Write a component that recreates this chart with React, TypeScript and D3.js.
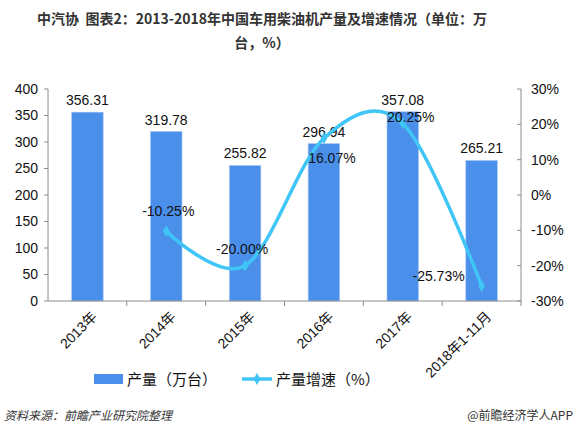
import { useMemo } from "react";
import * as d3 from "d3";

const years = ["2013年", "2014年", "2015年", "2016年", "2017年", "2018年1-11月"];
const output = [356.31, 319.78, 255.82, 296.94, 357.08, 265.21];
const growth = [null, -10.25, -20.0, 16.07, 20.25, -25.73];
const leftTicks = [0, 50, 100, 150, 200, 250, 300, 350, 400];
const rightTicks = [-30, -20, -10, 0, 10, 20, 30];

const W = 577;
const H = 434;
const M = { top: 89, right: 56, bottom: 133, left: 48 };
const BAR = "#4a8fea";
const LINE = "#3fc6f6";
const FONT = "'Liberation Sans', 'Noto Sans CJK SC', sans-serif";
const CJK = "'Noto Sans CJK SC', sans-serif";

// offsets for the growth labels, relative to each point
const growthLabelOffset: [number, number][] = [
  [0, 0],
  [2, -15],
  [-3, -12],
  [8, 25],
  [8, -1],
  [-43, -5],
];

export default function App() {
  const boundsWidth = W - M.left - M.right;
  const boundsHeight = H - M.top - M.bottom;

  const xScale = useMemo(
    () => d3.scaleBand().domain(years).range([0, boundsWidth]).paddingInner(0.6).paddingOuter(0.3),
    [boundsWidth]
  );
  const xBand = useMemo(
    () => d3.scaleBand().domain(years).range([0, boundsWidth]),
    [boundsWidth]
  );
  const yLeft = useMemo(
    () => d3.scaleLinear().domain([0, 400]).range([boundsHeight, 0]),
    [boundsHeight]
  );
  const yRight = useMemo(
    () => d3.scaleLinear().domain([-30, 30]).range([boundsHeight, 0]),
    [boundsHeight]
  );

  const cx = (c: string) => (xBand(c) ?? 0) + xBand.bandwidth() / 2;

  const linePts = years
    .map((c, i) => ({ c, v: growth[i] }))
    .filter((d) => d.v !== null) as { c: string; v: number }[];

  const linePath = d3
    .line<{ c: string; v: number }>()
    .x((d) => cx(d.c))
    .y((d) => yRight(d.v))
    .curve(d3.curveCardinal.tension(0))(linePts);

  const diamond = d3.symbol().type(d3.symbolDiamond).size(40)() ?? "";

  return (
    <svg width={W} height={H} style={{ position: "absolute", left: 0, top: 0, background: "#fff" }}>
      <text x={262} y={24} textAnchor="middle" fontFamily={CJK} fontWeight="bold" fontSize={14} fill="#333">
        {"中汽协\u00a0\u00a0图表2：2013-2018年中国车用柴油机产量及增速情况（单位：万"}
      </text>
      <text x={262} y={48} textAnchor="middle" fontFamily={CJK} fontWeight="bold" fontSize={14} fill="#333">
        台，%）
      </text>

      <g transform={`translate(${M.left},${M.top})`} fontFamily={FONT}>
        {/* bars */}
        {years.map((c, i) => (
          <g key={c}>
            <rect
              x={xScale(c)}
              y={yLeft(output[i])}
              width={xScale.bandwidth()}
              height={boundsHeight - yLeft(output[i])}
              fill={BAR}
              stroke="#a9c8f3"
              strokeWidth={0.6}
            />
            <text
              x={cx(c)}
              y={yLeft(output[i]) - 7}
              textAnchor="middle"
              fontSize={14}
              fill="#111"
            >
              {output[i].toFixed(2)}
            </text>
          </g>
        ))}

        {/* growth line */}
        <path d={linePath ?? ""} fill="none" stroke={LINE} strokeWidth={3.5} />
        {linePts.map((d) => (
          <path key={d.c} d={diamond} transform={`translate(${cx(d.c)},${yRight(d.v)})`} fill={LINE} />
        ))}
        {linePts.map((d) => {
          const i = years.indexOf(d.c);
          const [dx, dy] = growthLabelOffset[i];
          return (
            <text
              key={d.c}
              x={cx(d.c) + dx}
              y={yRight(d.v) + dy}
              textAnchor="middle"
              fontSize={14}
              fill="#111"
            >
              {d.v.toFixed(2)}%
            </text>
          );
        })}

        {/* left axis */}
        <line x1={0} x2={0} y1={0} y2={boundsHeight} stroke="#8c8c8c" />
        {leftTicks.map((t) => (
          <g key={t} transform={`translate(0,${yLeft(t)})`}>
            <line x1={-4} x2={0} stroke="#8c8c8c" />
            <text x={-10} dy="0.35em" textAnchor="end" fontSize={14} fill="#111">
              {t}
            </text>
          </g>
        ))}

        {/* right axis */}
        <line x1={boundsWidth} x2={boundsWidth} y1={0} y2={boundsHeight} stroke="#8c8c8c" />
        {rightTicks.map((t) => (
          <g key={t} transform={`translate(${boundsWidth},${yRight(t)})`}>
            <line x1={-4} x2={0} stroke="#8c8c8c" />
            <text x={10} dy="0.35em" textAnchor="start" fontSize={14} fill="#111">
              {t}%
            </text>
          </g>
        ))}

        {/* bottom axis */}
        <line x1={0} x2={boundsWidth} y1={boundsHeight} y2={boundsHeight} stroke="#8c8c8c" />
        {years.map((c) => (
          <line
            key={c}
            x1={(xBand(c) ?? 0) + xBand.bandwidth()}
            x2={(xBand(c) ?? 0) + xBand.bandwidth()}
            y1={boundsHeight}
            y2={boundsHeight + 5}
            stroke="#8c8c8c"
          />
        ))}
        {years.map((c) => (
          <text
            key={c}
            transform={`translate(${cx(c) + 7},${boundsHeight + 13}) rotate(-45)`}
            textAnchor="end"
            dy="0.35em"
            fontSize={14}
            fill="#111"
          >
            {c}
          </text>
        ))}
      </g>

      {/* legend */}
      <g fontFamily={CJK} fontSize={15} fill="#111">
        <rect x={94} y={374} width={29} height={10} fill={BAR} />
        <text x={127} y={385}>产量（万台）</text>
        <line x1={242} x2={272} y1={379} y2={379} stroke={LINE} strokeWidth={3.5} />
        <path d={diamond} transform="translate(257,379)" fill={LINE} />
        <text x={276} y={385}>产量增速（%）</text>
      </g>

      {/* footer */}
      <text x={4} y={420} fontFamily={CJK} fontSize={12} fontStyle="italic" fill="#333">
        资料来源：前瞻产业研究院整理
      </text>
      <text x={573} y={420} textAnchor="end" fontFamily={CJK} fontSize={12} fill="#333">
        @前瞻经济学人APP
      </text>
    </svg>
  );
}
